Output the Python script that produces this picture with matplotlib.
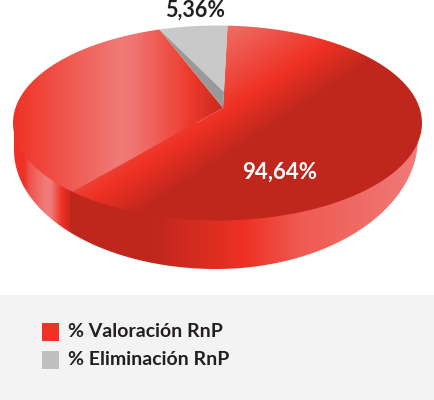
import numpy as np
import matplotlib
matplotlib.use("Agg")
import matplotlib.pyplot as plt
from matplotlib.colors import to_rgb
from matplotlib.patches import Polygon, Rectangle

# --- data ---
legend_labels = ["% Valoración RnP", "% Eliminación RnP"]
slice_labels = ["5,36%", "94,64%"]
eliminacion = 5.36
valoracion_left = 32.9    # visible split of the red part
valoracion_main = 61.74
shares = [eliminacion, valoracion_left, valoracion_main]

# --- geometry and style (pixels) ---
W, H = 435, 400
CX, CY, RX, RY = 217.5, 123.0, 204.5, 97.5
LOW_CX, LOW_RX = 216.0, 202.0
LOW_RIGHT_CY, LOW_RIGHT_RY = 138.0, 131.0
LOW_LEFT_CY, LOW_LEFT_RY = 150.0, 119.0
APEX = (223.0, 108.0)
GREY_INNER = (224.0, 92.0)
START = 87.2
RED, DARK, LIGHT = "#EE3124", "#C0271C", "#F07A77"
FONT = "Lato"

fig = plt.figure(figsize=(W / 100, H / 100), dpi=100, facecolor="white")
ax = fig.add_axes([0, 0, 1, 1])
ax.set_axis_off()


def arc(t1, t2, n=200):
    t = np.radians(np.linspace(t1, t2, n))
    return np.column_stack([CX + RX * np.cos(t), CY - RY * np.sin(t)])


def ramp(v, stops):
    pos = [s[0] for s in stops]
    cols = np.array([to_rgb(s[1]) for s in stops])
    return np.stack([np.interp(v, pos, cols[:, i]) for i in range(3)], axis=-1)


YY, XX = np.mgrid[0:H, 0:W] + 0.5


def paint(values, stops, patch, z):
    ax.add_patch(patch)
    patch.set_facecolor("none")
    patch.set_edgecolor("none")
    im = ax.imshow(ramp(values, stops), extent=(0, W, H, 0), aspect="auto",
                   zorder=z, interpolation="bilinear")
    im.set_clip_path(patch)


# wedge angles from the values
edges = START + np.cumsum([0] + shares) * 3.6
(grey_a, left_a, main_a, end_a) = edges

# side wall
tl = np.radians(np.linspace(180, 270, 150))
tr = np.radians(np.linspace(270, 360, 150))
lower_left = np.column_stack([LOW_CX + LOW_RX * np.cos(tl), LOW_LEFT_CY - LOW_LEFT_RY * np.sin(tl)])
lower_right = np.column_stack([LOW_CX + LOW_RX * np.cos(tr), LOW_RIGHT_CY - LOW_RIGHT_RY * np.sin(tr)])
side = Polygon(np.vstack([[[LOW_CX - LOW_RX, CY]], lower_left, lower_right, [[LOW_CX + LOW_RX, CY]]]), closed=True)
paint(XX, [(14, RED), (24, RED), (30, "#EE5550"), (45, LIGHT), (51, LIGHT),
           (62, RED), (69.5, "#D02A1E"), (70.5, DARK), (155, DARK), (245, RED),
           (300, "#EF5A52"), (415, LIGHT)], side, 1)

# big red slice, diagonal gradient
main = Polygon(np.vstack([arc(main_a, end_a), APEX]), closed=True)
paint(0.55 * XX + 0.835 * YY, [(146, "#EE6F68"), (217, RED), (255, DARK)], main, 3)

# left red slice, horizontal gradient
left = Polygon(np.vstack([arc(left_a, main_a), APEX]), closed=True)
paint(XX, [(13, RED), (30, "#F03E32"), (120, LIGHT), (135, "#EE7470"),
           (190, "#EE3A2D"), (223, "#C9281D")], left, 3)

# grey slice and its inner wall
grey_arc = arc(grey_a, left_a)
ax.add_patch(Polygon(np.vstack([grey_arc, GREY_INNER]), closed=True,
                     facecolor="#C9C9C9", edgecolor="none", zorder=4))
ax.add_patch(Polygon([grey_arc[-1], GREY_INNER, APEX], closed=True,
                     facecolor="#999999", edgecolor="none", zorder=4))

# slice labels
ax.text(195, 10, slice_labels[0], ha="center", va="center", family=FONT,
        weight="bold", fontsize=15.5, color="#231F20", zorder=6)
ax.text(280, 172, slice_labels[1], ha="center", va="center", family=FONT,
        weight="bold", fontsize=16, color="white", zorder=6)

# legend panel
ax.add_patch(Rectangle((0, 295), W, 105, facecolor="#F3F3F3", edgecolor="none", zorder=0))
for y, col, lab in zip((332, 360), ("#F03226", "#C0C0C0"), legend_labels):
    ax.add_patch(Rectangle((42, y - 9), 17, 18, facecolor=col, edgecolor="none", zorder=5))
    ax.text(68, y - 0.5, lab, ha="left", va="center", family=FONT, weight="bold",
            fontsize=14, color="#231F20", zorder=6)

ax.set_xlim(0, W)
ax.set_ylim(H, 0)
fig.savefig("out.png", dpi=100, facecolor="white")
